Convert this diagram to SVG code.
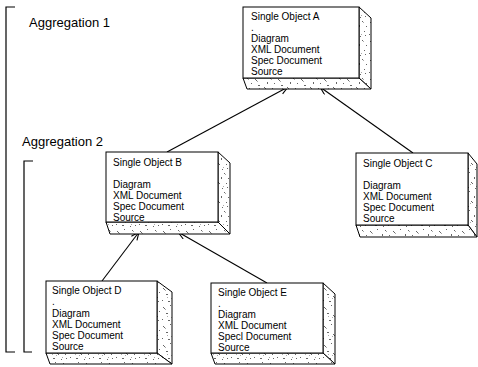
<svg xmlns="http://www.w3.org/2000/svg" width="478" height="367" viewBox="0 0 478 367">
<defs>
<style>
.lbl{font-family:"Liberation Sans",Arial,sans-serif;font-size:10px;fill:#000}
.agg{font-family:"Liberation Sans",Arial,sans-serif;font-size:13px;fill:#000}
.front{fill:#fff;stroke:#000;stroke-width:1}
.side{fill:url(#tex);stroke:#000;stroke-width:1;stroke-linejoin:round}
.br{fill:none;stroke:#000;stroke-width:1.2}
.conn{fill:none;stroke:#000;stroke-width:1.1;marker-end:url(#arr)}
</style>
<pattern id="tex" width="23" height="19" patternUnits="userSpaceOnUse">
<rect width="23" height="19" fill="#fff"/>
<path d="M2 3h1v1h-1z M3 4h1v1h-1z M9 1h1v1h-1z M14 6h1v2h-1z M5 9h2v1h-2z M19 12h1v1h-1z M1 15h1v1h-1z M11 11h1v1h-1z M12 12h1v1h-1z M17 2h1v1h-1z M21 7h1v1h-1z M7 16h2v1h-2z M15 17h1v1h-1z M20 16h1v1h-1z" fill="#666"/>
<path d="M4 5h1v1h-1z M10 13h1v1h-1z M18 3h1v1h-1z M16 15h1v1h-1z M6 12h1v1h-1z" fill="#aaa"/>
</pattern>
<marker id="arr" markerWidth="10" markerHeight="10" refX="9" refY="4" orient="auto" markerUnits="userSpaceOnUse">
<path d="M1,0.5 L9,4 L1,7.5" fill="none" stroke="#000" stroke-width="1.1"/>
</marker>
</defs>

<g id="brackets">
<polyline class="br" points="15,7 6,7 6,352 15,352"/>
<polyline class="br" points="33,161 24,161 24,352 32,352"/>
<text class="agg" x="29" y="27">Aggregation 1</text>
<text class="agg" x="22" y="146">Aggregation 2</text>
</g>

<g id="connectors">
<line class="conn" x1="167" y1="152" x2="288" y2="87"/>
<line class="conn" x1="413" y1="153" x2="320" y2="87"/>
<line class="conn" x1="102" y1="281" x2="139" y2="232"/>
<line class="conn" x1="267" y1="283" x2="178" y2="232"/>
</g>

<g id="nodeA">
<polygon class="side" points="359,7 371,18 371,89 359,78"/>
<polygon class="side" points="243,78 247,89 371,89 359,78"/>
<rect class="front" x="243" y="7" width="116" height="71"/>
<text class="lbl" x="251" y="20">Single Object A</text>
<text class="lbl" x="251" y="31">.</text>
<text class="lbl" x="251" y="42">Diagram</text>
<text class="lbl" x="251" y="53">XML Document</text>
<text class="lbl" x="251" y="64">Spec Document</text>
<text class="lbl" x="251" y="75">Source</text>
</g>

<g id="nodeB">
<polygon class="side" points="218,152 230,163 230,234 218,222"/>
<polygon class="side" points="106,222 110,234 230,234 218,222"/>
<rect class="front" x="106" y="152" width="112" height="70"/>
<text class="lbl" x="113" y="166">Single Object B</text>
<text class="lbl" x="113" y="188">Diagram</text>
<text class="lbl" x="113" y="199">XML Document</text>
<text class="lbl" x="113" y="210">Spec Document</text>
<text class="lbl" x="113" y="221">Source</text>
</g>

<g id="nodeC">
<polygon class="side" points="468,153 477,164 477,237 468,225"/>
<polygon class="side" points="356,225 360,237 477,237 468,225"/>
<rect class="front" x="356" y="153" width="112" height="72"/>
<text class="lbl" x="363" y="167">Single Object C</text>
<text class="lbl" x="363" y="189">Diagram</text>
<text class="lbl" x="363" y="200">XML Document</text>
<text class="lbl" x="363" y="211">Spec Document</text>
<text class="lbl" x="363" y="222">Source</text>
</g>

<g id="nodeD">
<polygon class="side" points="157,281 172,292 172,364 157,353"/>
<polygon class="side" points="46,353 50,364 172,364 157,353"/>
<rect class="front" x="46" y="281" width="111" height="72"/>
<text class="lbl" x="52" y="294">Single Object D</text>
<text class="lbl" x="52" y="305">.</text>
<text class="lbl" x="52" y="317">Diagram</text>
<text class="lbl" x="52" y="328">XML Document</text>
<text class="lbl" x="52" y="339">Spec Document</text>
<text class="lbl" x="52" y="350">Source</text>
</g>

<g id="nodeE">
<polygon class="side" points="323,283 335,294 335,364 323,353"/>
<polygon class="side" points="211,353 215,364 335,364 323,353"/>
<rect class="front" x="211" y="283" width="112" height="70"/>
<text class="lbl" x="218" y="296">Single Object E</text>
<text class="lbl" x="218" y="307">.</text>
<text class="lbl" x="218" y="318">Diagram</text>
<text class="lbl" x="218" y="329">XML Document</text>
<text class="lbl" x="218" y="340">Specl Document</text>
<text class="lbl" x="218" y="351">Source</text>
</g>
</svg>
